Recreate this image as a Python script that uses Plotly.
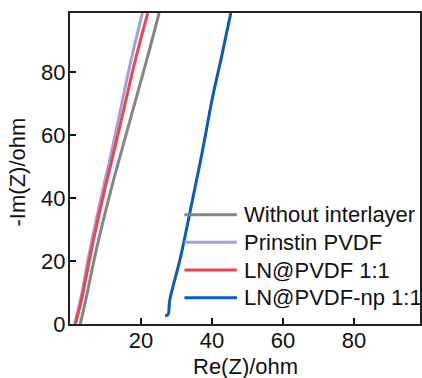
import plotly.graph_objects as go

names = ["Without interlayer", "Prinstin PVDF", "LN@PVDF 1:1", "LN@PVDF-np 1:1"]
colors = ["#858585", "#a29fe0", "#f5434c", "#0a5cb8"]

gray_re = [2.9, 4.7, 7.4, 11.6, 13.8, 17.7, 21.6, 25.1]
gray_im = [0.0, 9.0, 23.5, 42.9, 52.1, 68.0, 83.9, 98.9]

purple_re = [1.3, 3.0, 5.6, 9.3, 11.2, 14.2, 17.2, 20.4]
purple_im = [0.0, 8.0, 23.5, 42.9, 52.1, 68.0, 83.9, 98.9]

red_re = [1.5, 3.3, 6.0, 9.8, 11.8, 15.1, 18.4, 21.9]
red_im = [0.0, 8.0, 23.5, 42.9, 52.1, 68.0, 83.9, 98.9]

blue_re = [26.8, 27.6, 28.1, 31.2, 34.6, 37.4, 40.0, 42.7, 45.3]
blue_im = [2.6, 3.0, 7.6, 21.5, 40.0, 55.5, 71.2, 85.0, 98.9]

series = [(gray_re, gray_im), (purple_re, purple_im), (red_re, red_im), (blue_re, blue_im)]

xticks = [20, 40, 60, 80]
yticks = [0, 20, 40, 60, 80]

fig = go.Figure()
for (xr, yi), n, c in zip(series, names, colors):
    fig.add_trace(go.Scatter(x=xr, y=yi, mode="lines", name=n,
                             line=dict(color=c, width=3, shape="spline", smoothing=1.0),
                             showlegend=False))

font = "Arial, Liberation Sans, sans-serif"

# manual legend (paper coordinates)
row_y = [0.3514, 0.2627, 0.1736, 0.0846]
for n, c, yy in zip(names, colors, row_y):
    fig.add_shape(type="line", xref="paper", yref="paper",
                  x0=0.327, x1=0.477, y0=yy, y1=yy,
                  line=dict(color=c, width=3))
    fig.add_annotation(xref="paper", yref="paper", x=0.49, y=yy,
                       text=n, showarrow=False, xanchor="left", yanchor="middle",
                       font=dict(size=22, color="#111", family=font))

# axis titles
fig.add_annotation(xref="paper", yref="paper", x=0.5, y=-0.138, text="Re(Z)/ohm",
                   showarrow=False, xanchor="center", yanchor="middle",
                   font=dict(size=22, color="#111", family=font))
fig.add_annotation(xref="paper", yref="paper", x=-0.149, y=0.49, text="-Im(Z)/ohm",
                   showarrow=False, xanchor="center", yanchor="middle", textangle=-90,
                   font=dict(size=22, color="#111", family=font))

fig.update_layout(
    width=422, height=378,
    margin=dict(l=70, r=0, t=13, b=54),
    paper_bgcolor="white", plot_bgcolor="white",
    font=dict(family=font, size=22, color="#111"),
    xaxis=dict(range=[0, 98.6], tickvals=xticks, ticks="inside", ticklen=6,
               tickwidth=1.5, tickcolor="#111", showgrid=False, zeroline=False,
               showline=True, linecolor="#222", linewidth=2, mirror=True,
               ticklabelstandoff=-4, tickfont=dict(size=22)),
    yaxis=dict(range=[0, 98.9], tickvals=yticks, ticks="inside", ticklen=6,
               tickwidth=1.5, tickcolor="#111", showgrid=False, zeroline=False,
               showline=True, linecolor="#222", linewidth=2, mirror=True,
               ticklabelstandoff=-2, tickfont=dict(size=22)),
)

fig.write_html("out.html")
